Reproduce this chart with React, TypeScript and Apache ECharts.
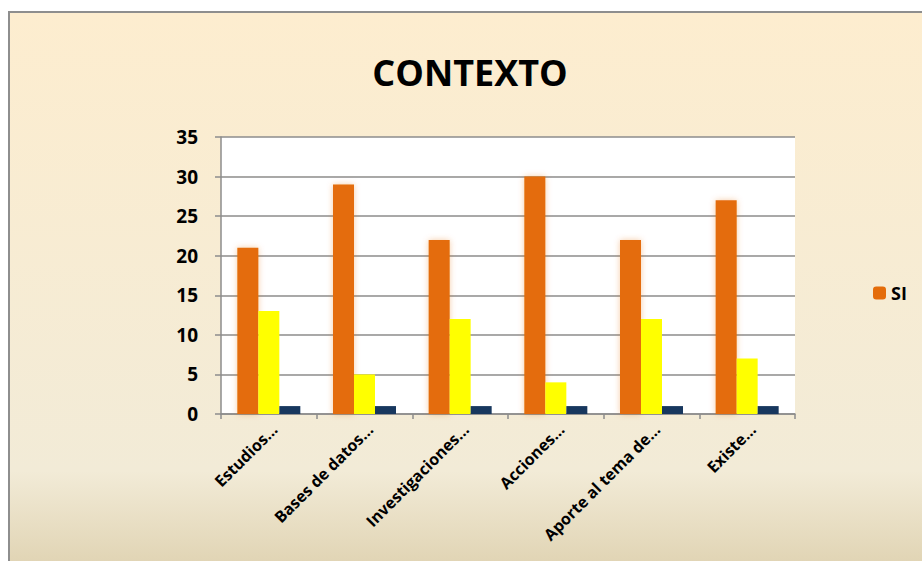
import React, { useEffect, useRef } from "react";
import * as echarts from "echarts";

const categories = [
  "Estudios…",
  "Bases de datos…",
  "Investigaciones…",
  "Acciones…",
  "Aporte al tema de…",
  "Existe…",
];
const siValues = [21, 29, 22, 30, 22, 27];
const noValues = [13, 5, 12, 4, 12, 7];
const otherValues = [1, 1, 1, 1, 1, 1];
const yTicks = [0, 5, 10, 15, 20, 25, 30, 35];

export default function App() {
  const ref = useRef<HTMLDivElement>(null);
  useEffect(() => {
    if (!ref.current) return;
    const chart = echarts.init(ref.current, undefined, { renderer: "svg" });
    const font = "Open Sans";
    chart.setOption({
      animation: false,
      graphic: [
        {
          type: "rect",
          z: -10,
          silent: true,
          shape: { x: 9, y: 12, width: 930, height: 560 },
          style: {
            fill: new echarts.graphic.LinearGradient(0, 0, 0, 1, [
              { offset: 0, color: "#FDEDCF" },
              { offset: 0.82, color: "#F2EBD7" },
              { offset: 1, color: "#DFD2B1" },
            ]),
            stroke: "#8E8E8E",
            lineWidth: 2,
          },
        },
      ],
      title: {
        text: "CONTEXTO",
        left: 465,
        textAlign: "center",
        top: 49,
        textStyle: {
          fontFamily: font,
          fontWeight: "bold",
          fontSize: 36,
          color: "#000",
        },
      },
      legend: {
        data: ["SI"],
        left: 868,
        top: 279,
        itemWidth: 13,
        itemHeight: 13,
        itemGap: 6,
        textStyle: {
          fontFamily: font,
          fontWeight: "bold",
          fontSize: 18,
          color: "#000",
        },
      },
      grid: { left: 221, right: 127, top: 137, bottom: 147, containLabel: false },
      xAxis: {
        type: "category",
        data: categories,
        axisLine: { lineStyle: { color: "#8C8C8C", width: 1.5 } },
        axisTick: { show: true, length: 5, lineStyle: { color: "#8C8C8C", width: 1.5 } },
        axisLabel: {
          rotate: 45,
          interval: 0,
          margin: 7,
          verticalAlign: "top",
          fontFamily: font,
          fontWeight: "bold",
          fontSize: 16,
          color: "#000",
        },
        splitArea: { show: false },
      },
      yAxis: {
        type: "value",
        min: yTicks[0],
        max: yTicks[yTicks.length - 1],
        interval: 5,
        axisLine: { show: true, lineStyle: { color: "#8C8C8C", width: 1.5 } },
        axisTick: { show: true, length: 6, lineStyle: { color: "#8C8C8C", width: 1.5 } },
        splitLine: { lineStyle: { color: "#8C8C8C", width: 1.5 } },
        axisLabel: {
          margin: 23,
          fontFamily: font,
          fontWeight: "bold",
          fontSize: 19,
          color: "#000",
        },
        splitArea: { show: true, areaStyle: { color: ["#FFFFFF"] } },
      },
      series: [
        {
          name: "SI",
          type: "bar",
          data: siValues,
          barWidth: 21,
          barGap: "0%",
          itemStyle: {
            color: "#E46C0A",
            shadowColor: "rgba(228,108,10,0.35)",
            shadowBlur: 6,
          },
        },
        {
          name: "NO",
          type: "bar",
          data: noValues,
          barWidth: 21,
          barGap: "0%",
          itemStyle: { color: "#FFFF00" },
        },
        {
          name: "N/A",
          type: "bar",
          data: otherValues,
          barWidth: 21,
          barGap: "0%",
          itemStyle: { color: "#17375E" },
        },
      ],
    });
    return () => chart.dispose();
  }, []);
  return (
    <div
      ref={ref}
      style={{ position: "absolute", left: 0, top: 0, width: 922, height: 561 }}
    />
  );
}
